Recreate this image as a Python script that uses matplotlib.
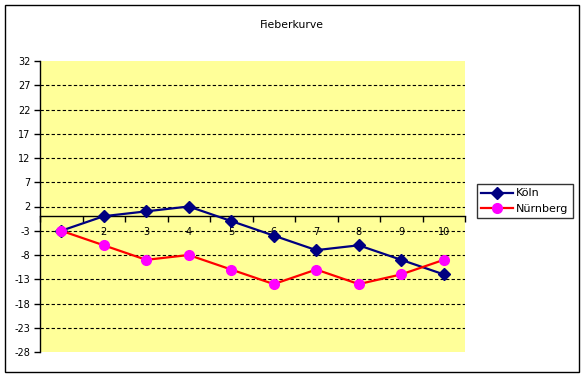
import matplotlib
matplotlib.use("Agg")
import matplotlib.pyplot as plt
from matplotlib.patches import Rectangle
from matplotlib.ticker import FixedLocator

title = "Fieberkurve"
categories = [1, 2, 3, 4, 5, 6, 7, 8, 9, 10]
koeln = [-3, 0, 1, 2, -1, -4, -7, -6, -9, -12]
nuernberg = [-3, -6, -9, -8, -11, -14, -11, -14, -12, -9]
y_ticks = [32, 27, 22, 17, 12, 7, 2, -3, -8, -13, -18, -23, -28]
series_names = ["Köln", "Nürnberg"]

W, H = 584, 377
fig = plt.figure(figsize=(W / 100, H / 100), dpi=100)
fig.patch.set_facecolor("white")

# outer chart border
fig.patches.append(Rectangle((5 / W, 1 - 372 / H), 574 / W, 367 / H,
                             transform=fig.transFigure, fill=False,
                             edgecolor="black", linewidth=1.0))

ax = fig.add_axes([40 / W, 1 - 352 / H, 425 / W, 291 / H])
ax.set_facecolor("#FFFF99")

ax.plot(categories, koeln, color="#000080", linewidth=1.6, marker="D",
        markersize=6, markerfacecolor="#000080", markeredgecolor="#000080",
        label=series_names[0], zorder=4)
ax.plot(categories, nuernberg, color="#FF0000", linewidth=1.6, marker="o",
        markersize=7, markerfacecolor="#FF00FF", markeredgecolor="#FF00FF",
        label=series_names[1], zorder=4)

ax.set_xlim(0.5, 10.5)
ax.set_ylim(min(y_ticks), max(y_ticks))
ax.set_yticks(y_ticks)
ax.set_yticklabels([str(v) for v in y_ticks])

ax.spines["top"].set_visible(False)
ax.spines["right"].set_visible(False)
ax.spines["left"].set_linewidth(1.0)
ax.spines["bottom"].set_position(("data", 0))
ax.spines["bottom"].set_linewidth(1.0)

ax.xaxis.set_major_locator(FixedLocator(categories))
ax.set_xticklabels([str(c) for c in categories])
ax.xaxis.set_minor_locator(FixedLocator([c - 0.5 for c in categories] + [categories[-1] + 0.5]))
ax.tick_params(axis="x", which="major", length=0, pad=8, labelsize=7)
ax.tick_params(axis="x", which="minor", length=4, direction="out", width=1)
ax.tick_params(axis="y", length=4, width=1, pad=3, labelsize=7)

ax.yaxis.grid(True, color="black", linestyle=(0, (3, 2)), linewidth=0.8)
ax.set_axisbelow(True)
gl = ax.get_ygridlines()
gl[0].set_visible(False)
gl[-1].set_visible(False)

fig.text(292 / W, 1 - 25 / H, title, ha="center", va="center", fontsize=7.8)

leg = ax.legend(loc="upper left", bbox_to_anchor=(477 / W, 1 - 184 / H),
                bbox_transform=fig.transFigure, borderaxespad=0,
                frameon=True, fancybox=False, fontsize=8, handlelength=2.8,
                handletextpad=0.3, borderpad=0.4, labelspacing=0.5)
leg.get_frame().set_edgecolor("black")
leg.get_frame().set_linewidth(1.0)

fig.savefig("out.png", dpi=100)
